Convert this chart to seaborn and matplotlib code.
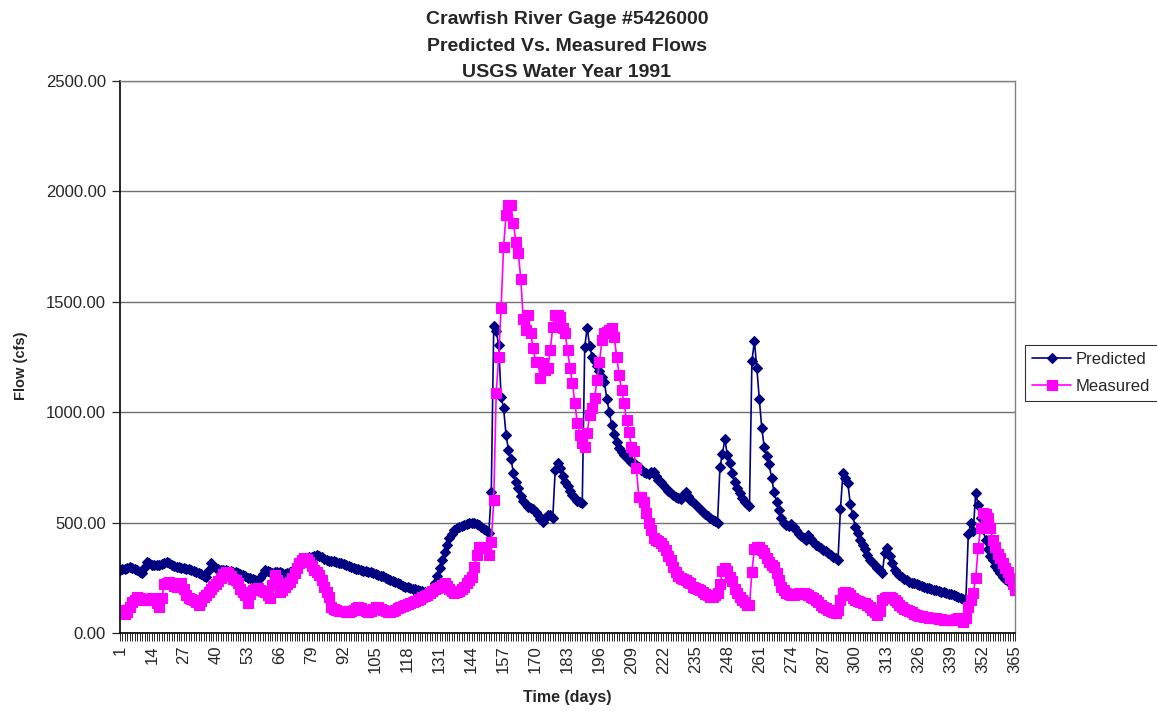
import matplotlib
matplotlib.use("Agg")
import matplotlib.pyplot as plt
import pandas as pd
import seaborn as sns

# daily flows (cfs), water year 1991
days = list(range(1, 366))

predicted = [
    285, 290, 292, 295, 299, 293, 288, 285, 278, 272, 300, 322, 315,
    310, 308, 306, 308, 312, 318, 322, 315, 308, 305, 301, 299, 296,
    294, 291, 288, 285, 280, 276, 272, 265, 258, 254, 285, 317, 305,
    294, 290, 286, 285, 284, 282, 280, 277, 275, 272, 268, 262, 256,
    250, 248, 245, 242, 240, 250, 268, 285, 282, 276, 272, 275, 278,
    276, 270, 268, 270, 275, 282, 290, 300, 310, 320, 330, 338, 344,
    346, 350, 352, 348, 342, 336, 330, 328, 326, 324, 322, 318, 315,
    312, 308, 305, 300, 296, 292, 289, 286, 283, 280, 277, 275, 272,
    268, 264, 260, 256, 251, 246, 241, 236, 231, 226, 220, 215, 210,
    207, 204, 201, 198, 195, 192, 189, 186, 183, 181, 195, 225, 260,
    295, 330, 365, 400, 430, 450, 465, 475, 480, 484, 490, 495, 498,
    498, 496, 492, 487, 480, 472, 465, 455, 638, 1390, 1368, 1304, 1069,
    1019, 897, 829, 790, 725, 685, 655, 620, 600, 585, 571, 566, 560,
    550, 534, 518, 503, 520, 534, 534, 521, 738, 770, 747, 710, 684,
    665, 645, 625, 610, 600, 593, 589, 1296, 1382, 1300, 1250, 1232, 1210,
    1185, 1160, 1137, 1060, 1000, 940, 900, 865, 838, 820, 806, 795, 783,
    776, 770, 760, 752, 740, 730, 725, 722, 728, 729, 710, 695, 684,
    670, 657, 645, 635, 625, 615, 610, 605, 625, 639, 620, 602, 595,
    585, 571, 562, 548, 540, 530, 521, 512, 505, 498, 752, 811, 878,
    806, 770, 725, 684, 657, 634, 611, 595, 584, 575, 1232, 1322, 1200,
    1060, 929, 842, 802, 765, 702, 639, 593, 557, 521, 500, 489, 485,
    495, 480, 465, 450, 440, 430, 421, 444, 425, 410, 400, 392, 385,
    378, 370, 362, 355, 345, 340, 331, 561, 725, 702, 679, 584, 534,
    480, 453, 421, 400, 380, 353, 331, 320, 308, 295, 285, 272, 362,
    385, 350, 317, 285, 272, 263, 255, 245, 238, 231, 228, 225, 222,
    218, 214, 210, 206, 202, 199, 196, 193, 190, 187, 184, 181, 178,
    175, 172, 168, 164, 160, 155, 150, 448, 498, 460, 634, 580, 520,
    470, 421, 380, 350, 331, 305, 285, 270, 254, 245, 235, 228, 222,
    215,
]

measured = [
    105, 100, 88, 95, 120, 140, 150, 163, 160, 155, 150, 148, 150,
    158, 155, 135, 118, 160, 220, 228, 231, 225, 215, 208, 218, 226,
    200, 170, 160, 155, 150, 140, 127, 145, 165, 172, 185, 200, 215,
    220, 235, 250, 265, 276, 270, 260, 245, 240, 225, 200, 185, 170,
    136, 175, 195, 200, 204, 195, 190, 186, 170, 158, 217, 263, 240,
    186, 195, 208, 220, 231, 250, 272, 295, 317, 330, 340, 335, 322,
    305, 285, 275, 263, 240, 208, 185, 163, 118, 110, 104, 100, 98,
    100, 95, 95, 98, 105, 112, 118, 115, 105, 98, 95, 100, 110,
    118, 116, 110, 102, 98, 95, 95, 98, 105, 112, 118, 122, 128,
    132, 136, 140, 145, 150, 155, 162, 168, 172, 180, 190, 198, 204,
    210, 218, 226, 215, 200, 190, 181, 185, 192, 200, 210, 226, 240,
    254, 299, 353, 389, 389, 385, 385, 353, 412, 602, 1087, 1250, 1472,
    1748, 1893, 1938, 1938, 1857, 1771, 1721, 1603, 1422, 1372, 1440, 1359, 1291,
    1227, 1227, 1155, 1223, 1191, 1200, 1282, 1386, 1440, 1440, 1431, 1381, 1360,
    1282, 1200, 1132, 1042, 951, 897, 861, 843, 906, 987, 1019, 1064, 1146,
    1227, 1327, 1359, 1363, 1370, 1381, 1341, 1250, 1168, 1100, 1042, 965, 910,
    843, 824, 747, 616, 616, 593, 543, 498, 466, 430, 421, 415, 408,
    395, 376, 350, 331, 299, 275, 260, 250, 245, 240, 232, 226, 210,
    205, 200, 195, 185, 175, 170, 165, 163, 170, 181, 220, 280, 294,
    280, 255, 235, 200, 180, 163, 150, 140, 127, 125, 278, 380, 390,
    390, 375, 362, 340, 322, 310, 299, 270, 240, 208, 195, 181, 175,
    172, 172, 176, 181, 178, 181, 178, 172, 165, 158, 150, 140, 128,
    118, 112, 106, 100, 96, 91, 105, 150, 181, 185, 181, 170, 158,
    150, 145, 140, 138, 136, 128, 118, 104, 95, 82, 100, 150, 160,
    163, 163, 160, 150, 140, 128, 118, 110, 104, 100, 95, 88, 82,
    78, 75, 73, 72, 70, 69, 68, 66, 64, 62, 60, 59, 59,
    58, 59, 62, 68, 60, 50, 70, 118, 150, 181, 249, 385, 476,
    543, 540, 521, 476, 421, 390, 360, 340, 317, 295, 275, 249, 220,
    195,
]

tick_days = list(range(1, 366, 13))
y_ticks = [0, 500, 1000, 1500, 2000, 2500]

sns.set_style("white")
plt.rcParams['font.family'] = ['Liberation Sans', 'DejaVu Sans']

df = pd.DataFrame({"day": days, "Predicted": predicted, "Measured": measured})
long = df.melt(id_vars="day", var_name="series", value_name="flow")

fig = plt.figure(figsize=(11.57, 7.11), dpi=100)
ax = fig.add_axes([0.1037, 0.1097, 0.7736, 0.7764])

colors = {"Predicted": "#000080", "Measured": "#FF00FF"}
sns.lineplot(data=long, x="day", y="flow", hue="series", style="series",
             palette=colors, markers={"Predicted": "D", "Measured": "s"},
             dashes=False, markersize=5.5, linewidth=1.2, ax=ax)
for line in ax.lines[:2]:
    line.set_markeredgecolor(line.get_color())
    line.set_markeredgewidth(0.8)
ax.lines[1].set_markersize(6.5)

ax.set_xlim(1, 365)
ax.set_ylim(0, 2500)
ax.set_xticks(days)
ax.set_xticklabels([str(d) if d in tick_days else "" for d in days],
                   rotation=90, fontsize=12)
ax.set_yticks(y_ticks)
ax.set_yticklabels([f"{v:.2f}" for v in y_ticks], fontsize=12)
ax.tick_params(axis="x", direction="out", length=6, width=0.7, pad=3, bottom=True)
ax.tick_params(axis="y", direction="out", length=6, width=0.9, pad=4, left=True)
ax.grid(axis="y", color="#707070", linewidth=1)
ax.set_axisbelow(True)

for side in ("left", "bottom"):
    ax.spines[side].set_color("black")
    ax.spines[side].set_linewidth(1.2)
for side in ("top", "right"):
    ax.spines[side].set_color("#808080")
    ax.spines[side].set_linewidth(1)

ax.set_xlabel("")
ax.set_ylabel("")
fig.text(0.49, 0.019, "Time (days)", ha="center", va="center",
         fontsize=11.5, fontweight="bold")
fig.text(0.018, 0.485, "Flow (cfs)", ha="center", va="center",
         rotation=90, fontsize=10.5, fontweight="bold")
fig.text(0.49, 0.984,
         "Crawfish River Gage #5426000\nPredicted Vs. Measured Flows\nUSGS Water Year 1991",
         ha="center", va="top", fontsize=14, fontweight="bold", linespacing=1.72)

ax.get_legend().remove()
leg = ax.legend(ax.lines[:2], ["Predicted", "Measured"], loc="center left",
                bbox_to_anchor=(1.011, 0.471), fontsize=12, frameon=True,
                fancybox=False, handlelength=2.3, handletextpad=0.3,
                borderpad=0.45, labelspacing=0.7, borderaxespad=0)
leg.get_frame().set_edgecolor("black")
leg.get_frame().set_linewidth(0.8)

fig.savefig("out.png", dpi=100)
